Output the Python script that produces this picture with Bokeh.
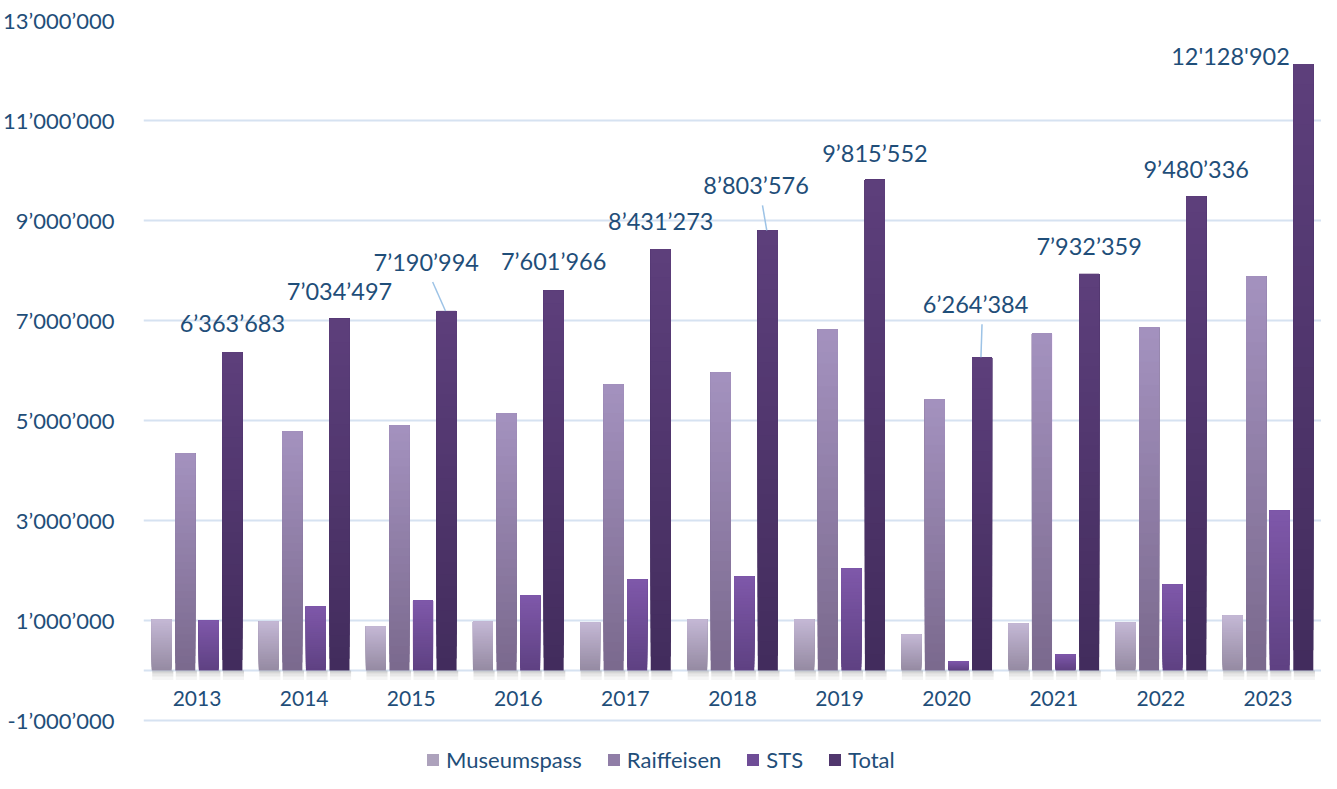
from bokeh.plotting import figure
from bokeh.models import (Range1d, FixedTicker, CustomJSTickFormatter, ColumnDataSource,
                          Legend, LegendItem)
from bokeh.core.properties import value
from bokeh.embed import file_html
from bokeh.resources import INLINE

# ---------------- data ----------------
years = ["2013", "2014", "2015", "2016", "2017", "2018", "2019", "2020", "2021", "2022", "2023"]
museumspass = [1020000, 980000, 880000, 980000, 960000, 1020000, 1020000, 720000, 940000, 960000, 1100000]
raiffeisen = [4340000, 4780000, 4900000, 5140000, 5720000, 5960000, 6820000, 5420000, 6740000, 6860000, 7880000]
sts = [1000000, 1280000, 1400000, 1500000, 1820000, 1880000, 2040000, 180000, 320000, 1720000, 3200000]
total = [6363683, 7034497, 7190994, 7601966, 8431273, 8803576, 9815552, 6264384, 7932359, 9480336, 12128902]
total_labels = ["6\u2019363\u2019683", "7\u2019034\u2019497", "7\u2019190\u2019994", "7\u2019601\u2019966",
                "8\u2019431\u2019273", "8\u2019803\u2019576", "9\u2019815\u2019552", "6\u2019264\u2019384",
                "7\u2019932\u2019359", "9\u2019480\u2019336", "12'128'902"]
y_ticks = [-1000000, 1000000, 3000000, 5000000, 7000000, 9000000, 11000000, 13000000]

# label placement (offsets relative to the top of the Total bar)
label_dx = [0, 0, -0.19, 0, 0, -0.11, 0, -0.06, 0, 0, -0.68]
label_dy = [580000, 560000, 980000, 580000, 560000, 900000, 540000, 1060000, 560000, 540000, 160000]
has_leader = [False, False, True, False, False, True, False, True, False, False, False]

# ---------------- styling ----------------
TEXT = "#1F4E79"
GRID = "#D6E2F1"
FONT = "Lato"
BAR_W = 0.187
series = [
    ("Museumspass", museumspass, -0.33, "#C4B8D5", "#958AA2"),
    ("Raiffeisen", raiffeisen, -0.11, "#A492BF", "#7A698D"),
    ("STS", sts, 0.11, "#7F58AA", "#5E4182"),
    ("Total", total, 0.33, "#5D3F7C", "#422C5C"),
]
N = 30


def hex2rgb(h):
    h = h.lstrip("#")
    return tuple(int(h[i:i + 2], 16) for i in (0, 2, 4))


def mix(c_bottom, c_top, t):
    a, b = hex2rgb(c_bottom), hex2rgb(c_top)
    return "#%02x%02x%02x" % tuple(int(round(a[j] + (b[j] - a[j]) * t)) for j in range(3))


p = figure(width=1321, height=773, output_backend="svg", toolbar_location=None,
           x_range=Range1d(0, len(years)), y_range=Range1d(-2060000, 13000000),
           x_axis_location=None, min_border_left=142, min_border_right=0,
           min_border_top=20, min_border_bottom=0, outline_line_color=None)
p.background_fill_color = "white"
p.border_fill_color = "white"

# grid / axes
p.xgrid.grid_line_color = None
p.ygrid.ticker = FixedTicker(ticks=[0] + y_ticks)
p.ygrid.grid_line_color = GRID
p.ygrid.grid_line_width = 2

ax = p.yaxis[0]
ax.ticker = FixedTicker(ticks=y_ticks)
ax.formatter = CustomJSTickFormatter(code=r"""
const s = Math.abs(tick).toFixed(0).replace(/\B(?=(\d{3})+(?!\d))/g, '\u2019');
return (tick < 0 ? '-' : '') + s;
""")
ax.axis_line_color = None
ax.major_tick_line_color = None
ax.minor_tick_line_color = None
ax.major_label_text_font = FONT
ax.major_label_text_font_size = "22px"
ax.major_label_text_color = TEXT
ax.major_label_standoff = 23

# shadows under bars
shadow_steps = [(0, -60000, 0.32), (-60000, -120000, 0.19), (-120000, -190000, 0.08)]
for name, vals, off, ctop, cbot in series:
    xs = [i + 0.5 + off + 0.01 for i in range(len(years))]
    for b0, b1, a in shadow_steps:
        p.vbar(x=xs, top=[b0] * len(xs), bottom=[b1] * len(xs), width=BAR_W + 0.01,
               fill_color="#7f7f7f", fill_alpha=a, line_color=None)

# gradient bars: overlapping layers (each from its start to the bar top), drawn bottom-up
legend_items = []
for name, vals, off, ctop, cbot in series:
    d = dict(x=[], top=[], bottom=[], color=[])
    for k in range(N):
        for i, v in enumerate(vals):
            d["x"].append(i + 0.5 + off)
            d["bottom"].append(v * k / N)
            d["top"].append(v)
            d["color"].append(mix(cbot, ctop, (k + 0.5) / N))
    r = p.vbar(x="x", top="top", bottom="bottom", width=BAR_W, source=ColumnDataSource(d),
               fill_color="color", line_color=None)
    legend_items.append(LegendItem(label=name, renderers=[r], index=(N // 2) * len(years)))

# year labels
p.text(x=[i + 0.5 for i in range(len(years))], y=[-560000] * len(years), text=years,
       text_font=value(FONT), text_font_size="21px", text_color=TEXT,
       text_align="center", text_baseline="middle")

# total labels and leader lines
tot_off = series[3][2]
lx = [i + 0.5 + tot_off + label_dx[i] for i in range(len(years))]
ly = [total[i] + label_dy[i] for i in range(len(years))]
p.text(x=lx, y=ly, text=total_labels, text_font=value(FONT), text_font_size="23.5px",
       text_color=TEXT, text_align="center", text_baseline="middle")
idx = [i for i in range(len(years)) if has_leader[i]]
p.segment(x0=[lx[i] + 0.06 for i in idx], y0=[ly[i] - 400000 for i in idx],
          x1=[i + 0.5 + tot_off - 0.01 for i in idx], y1=[total[i] for i in idx],
          line_color="#9DC3E6", line_width=1.5)

legend = Legend(items=legend_items, location=(282, 0), orientation="horizontal",
                background_fill_alpha=0, border_line_color=None,
                label_text_font=FONT, label_text_font_size="22px", label_text_color=TEXT,
                glyph_width=15, glyph_height=15, spacing=24, label_standoff=6,
                margin=0, padding=0)
p.add_layout(legend)

open("out.html", "w").write(file_html(p, INLINE))
